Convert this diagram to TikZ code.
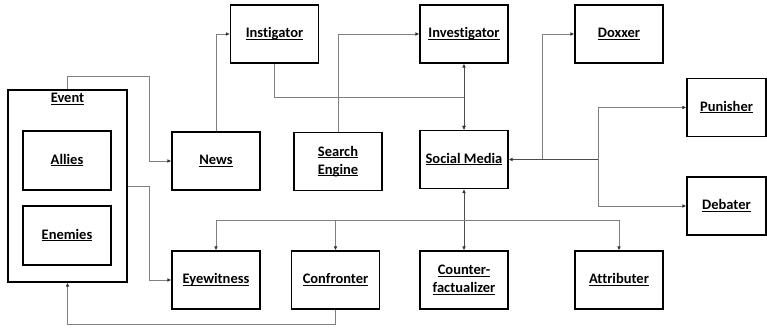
\documentclass[tikz,border=0pt]{standalone}
\usepackage{fontspec}
\setmainfont{Carlito}[Ligatures=NoCommon]
\usetikzlibrary{arrows.meta}
\newcommand\ulx[1]{\underline{\smash{#1}}\vphantom{A}}
\begin{document}
\begin{tikzpicture}[x=1pt,y=-1pt,
  box/.style={draw=black,line width=1.1pt,minimum width=88pt,minimum height=58pt,inner sep=0pt,align=center,
    font=\fontsize{14.5}{18}\selectfont\bfseries},
  conn/.style={draw=black!50,line width=0.8pt,-{Latex[length=4pt,width=3.6pt,black!80]}},
  lbl/.style={inner sep=0pt,font=\fontsize{14.5}{18}\selectfont\bfseries}]
\useasboundingbox (0,0) rectangle (767,328);
% boxes
\node[box,minimum width=119pt,minimum height=192pt] (event) at (67.5,186) {};
\node[lbl] (eventlbl) at (67.5,99) {\ulx{Event}};
\node[box,minimum height=59pt] (allies) at (67,160.5) {\ulx{Allies}};
\node[box,minimum height=59pt] (enemies) at (67,235.5) {\ulx{Enemies}};
\node[box] (news) at (216,161) {\ulx{News}};
\node[box] (eye) at (216,280) {\ulx{Eyewitness}};
\node[box] (instig) at (274.5,34) {\ulx{Instigator}};
\node[box] (invest) at (464,34) {\ulx{Investigator}};
\node[box] (search) at (338,161.5) {\ulx{Search}\\\ulx{Engine}};
\node[box] (sm) at (464,159.5) {\ulx{Social Media}};
\node[box] (dox) at (619,34) {\ulx{Doxxer}};
\node[box,minimum width=79pt] (pun) at (726.5,107.5) {\ulx{Punisher}};
\node[box,minimum width=79pt] (deb) at (726.5,206) {\ulx{Debater}};
\node[box] (conf) at (335.5,280) {\ulx{Confronter}};
\node[box] (cf) at (464,280) {\ulx{Counter-}\\\ulx{factualizer}};
\node[box] (attr) at (619,280) {\ulx{Attributer}};
% connectors
\draw[conn] (event.north) |- (149,76) |- (news.west);
\draw[conn] (event.east) -- (149,186) |- (eye.west);
\draw[conn] (conf.south) |- (67.5,324) -- (event.south);
\draw[conn] (news.north) |- (instig.west);
\draw[conn] (search.north) |- (invest.west);
\draw[conn] (instig.south) |- (sm.north |- 0,97) -- (sm.north);
\draw[conn,draw=black!70,{Latex[length=4pt,width=3.6pt,black!80]}-{Latex[length=4pt,width=3.6pt,black!80]}] (invest.south) -- (sm.north);
\coordinate (hubR) at (sm.east -| 598,0);
\coordinate (hubD) at (sm.east -| 542,0);
\draw[conn,draw=black!70] (hubR) -- (sm.east);
\draw[conn] (hubD) |- (dox.west);
\draw[conn] (hubR) |- (pun.west);
\draw[conn] (hubR) |- (deb.west);
\coordinate (bus) at (sm.south |- 0,220);
\draw[conn,draw=black!70,{Latex[length=4pt,width=3.6pt,black!80]}-{Latex[length=4pt,width=3.6pt,black!80]}] (cf.north) -- (sm.south);
\draw[conn] (bus) -| (eye.north);
\draw[conn] (bus) -| (attr.north);
\draw[conn] (conf.north |- bus) -- (conf.north);
\end{tikzpicture}
\end{document}
